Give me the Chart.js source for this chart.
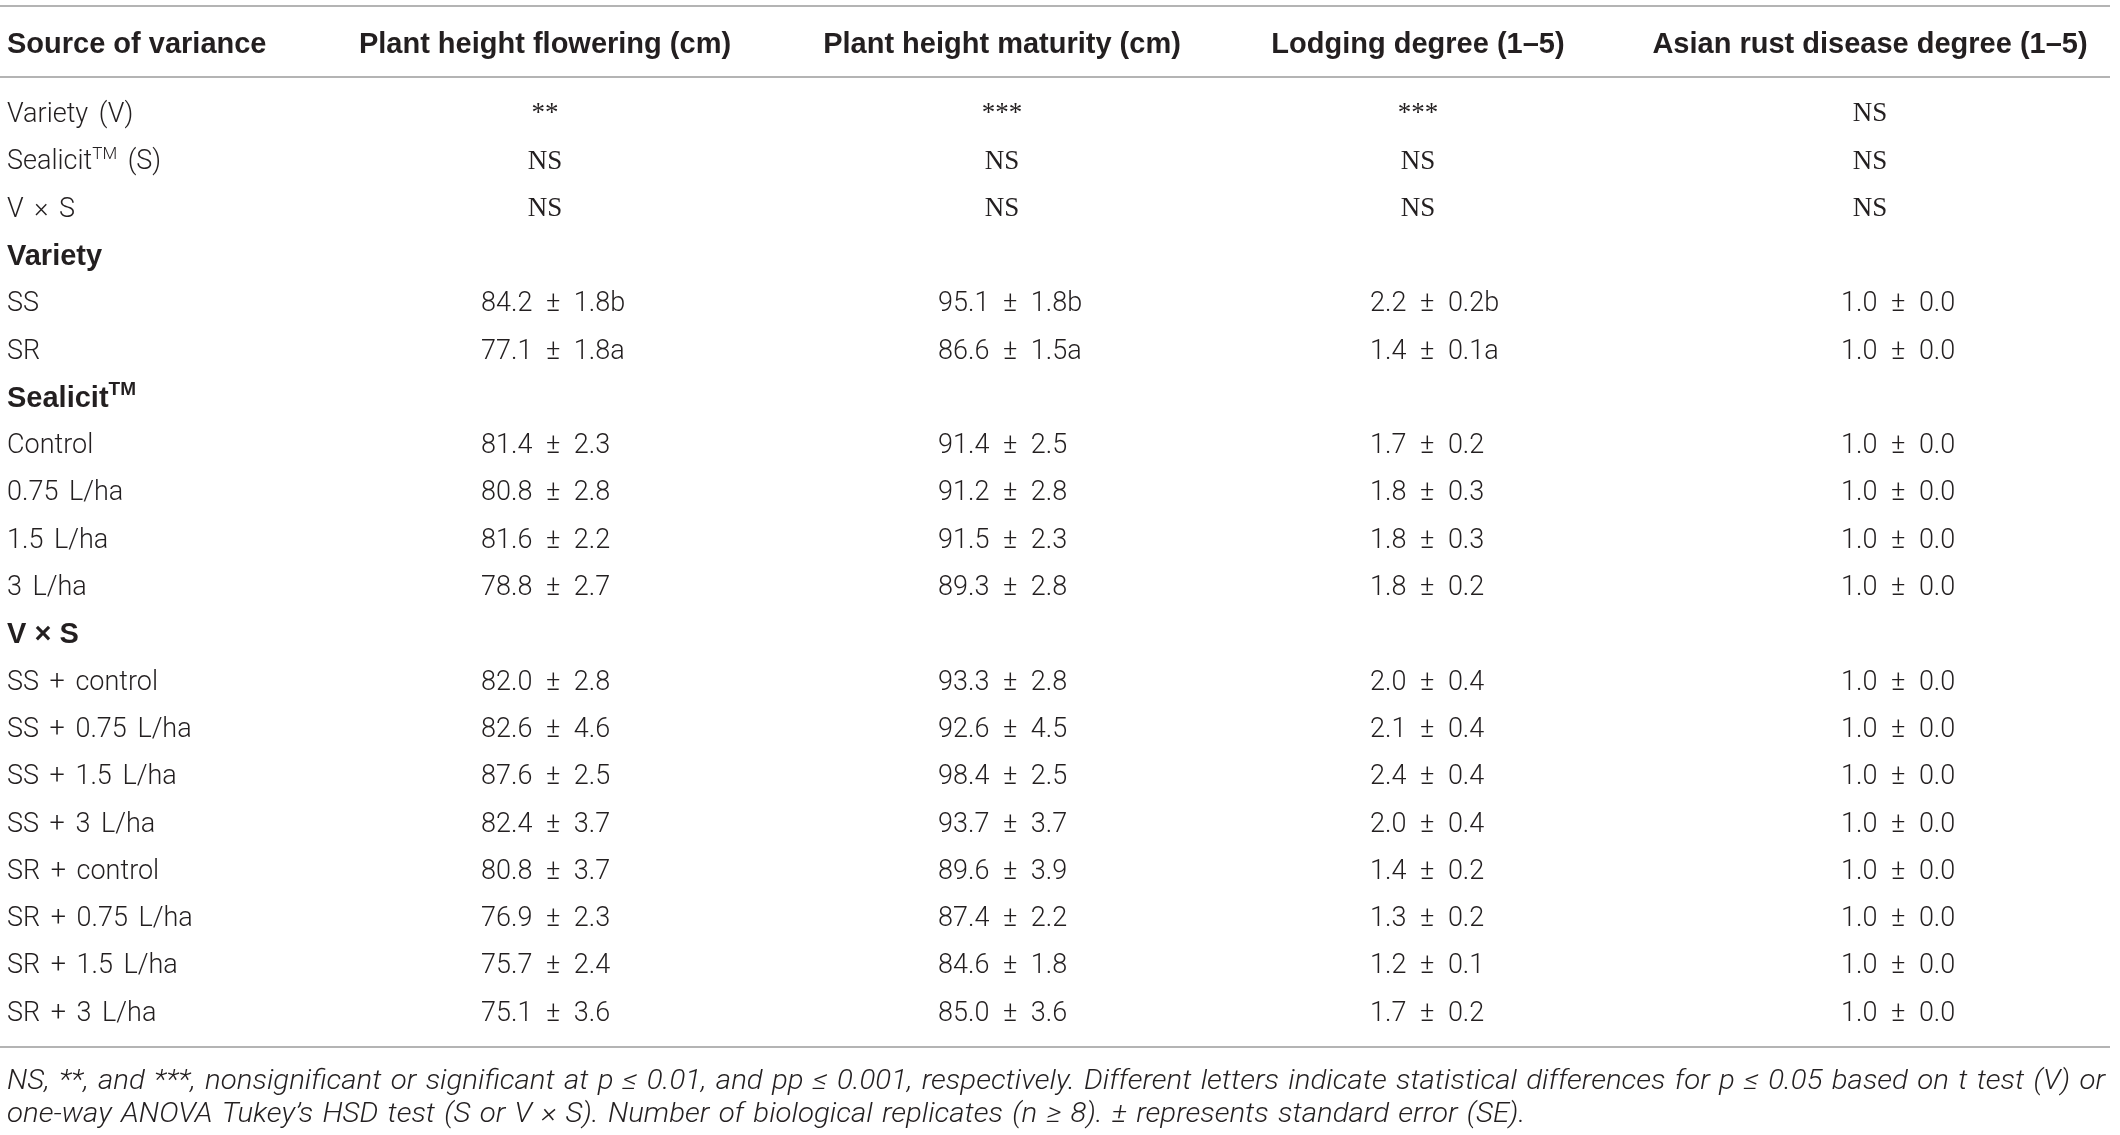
<!DOCTYPE html>
<html>
<head>
<meta charset="utf-8">
<script src="https://cdn.jsdelivr.net/npm/chart.js@4.4.1/dist/chart.umd.min.js"></script>
<style>
    html, body { margin: 0; padding: 0; background: #fff; }
    .table_wrap { width: 2120px; height: 1135px; position: relative; }
</style>
</head>
<body>
<div class="table_wrap"><canvas id="myChart"></canvas></div>
<script>
// --- table content ---
const columnHeads = ['Source of variance', 'Plant height flowering (cm)', 'Plant height maturity (cm)',
    'Lodging degree (1–5)', 'Asian rust disease degree (1–5)'];
const rowLabels = ['Variety (V)', 'Sealicit^TM (S)', 'V × S', 'Variety', 'SS', 'SR', 'Sealicit^TM',
    'Control', '0.75 L/ha', '1.5 L/ha', '3 L/ha', 'V × S', 'SS + control', 'SS + 0.75 L/ha',
    'SS + 1.5 L/ha', 'SS + 3 L/ha', 'SR + control', 'SR + 0.75 L/ha', 'SR + 1.5 L/ha', 'SR + 3 L/ha'];
const groupRows = [3, 6, 11];

const sigRows = [0, 1, 2];
const sigFlowering = ['**', 'NS', 'NS'];
const sigMaturity = ['***', 'NS', 'NS'];
const sigLodging = ['***', 'NS', 'NS'];
const sigRust = ['NS', 'NS', 'NS'];

const meanRows = [4, 5, 7, 8, 9, 10, 12, 13, 14, 15, 16, 17, 18, 19];
const floweringMean = [84.2, 77.1, 81.4, 80.8, 81.6, 78.8, 82.0, 82.6, 87.6, 82.4, 80.8, 76.9, 75.7, 75.1];
const floweringSE = [1.8, 1.8, 2.3, 2.8, 2.2, 2.7, 2.8, 4.6, 2.5, 3.7, 3.7, 2.3, 2.4, 3.6];
const maturityMean = [95.1, 86.6, 91.4, 91.2, 91.5, 89.3, 93.3, 92.6, 98.4, 93.7, 89.6, 87.4, 84.6, 85.0];
const maturitySE = [1.8, 1.5, 2.5, 2.8, 2.3, 2.8, 2.8, 4.5, 2.5, 3.7, 3.9, 2.2, 1.8, 3.6];
const lodgingMean = [2.2, 1.4, 1.7, 1.8, 1.8, 1.8, 2.0, 2.1, 2.4, 2.0, 1.4, 1.3, 1.2, 1.7];
const lodgingSE = [0.2, 0.1, 0.2, 0.3, 0.3, 0.2, 0.4, 0.4, 0.4, 0.4, 0.2, 0.2, 0.1, 0.2];
const rustMean = [1.0, 1.0, 1.0, 1.0, 1.0, 1.0, 1.0, 1.0, 1.0, 1.0, 1.0, 1.0, 1.0, 1.0];
const rustSE = [0.0, 0.0, 0.0, 0.0, 0.0, 0.0, 0.0, 0.0, 0.0, 0.0, 0.0, 0.0, 0.0, 0.0];
const varietyLetters = ['b', 'a'];   // t test letters, first two mean rows (cols 1-3)

const footnotes = [
    'NS, **, and ***, nonsignificant or significant at p ≤ 0.01, and pp ≤ 0.001, respectively. Different letters indicate statistical differences for p ≤ 0.05 based on t test (V) or',
    'one-way ANOVA Tukey’s HSD test (S or V × S). Number of biological replicates (n ≥ 8). ± represents standard error (SE).'
];

// --- layout (x in px, y in row units) ---
const colCenter = [7, 545, 1002, 1418, 1870];
const valueLeft = [7, 481, 938, 1370, 1841];
const HEAD_ROW = -1.47;
const RULE_ROWS = [-2.25, -0.75, 19.76];
const NOTE_ROWS = [20.45, 21.13];
const NOTE_WIDTH = 2098;
const Y_MIN = -2.378, Y_MAX = 21.618;
const INK = '#231f20';

const STYLES = {
    head:  { font: 'bold 29px "Liberation Sans"', size: 29, cap: 0.716 },
    group: { font: 'bold 29px "Liberation Sans"', size: 29, cap: 0.716 },
    label: { font: '300 27px Roboto', size: 27, cap: 0.711, spacing: '4px' },
    value: { font: '300 27px Roboto', size: 27, cap: 0.711, spacing: '7px' },
    sig:   { font: '27px "Liberation Serif"', size: 27, cap: 0.662 },
    note:  { font: 'italic 300 27px Roboto', size: 27, cap: 0.711, spacing: '2px' }
};

function cellText(mean, se, letter) {
    return mean.toFixed(1) + ' ± ' + se.toFixed(1) + (letter || '');
}

function makeSet(style, align, points, texts) {
    return { style: style, align: align, data: points, texts: texts, pointRadius: 0, showLine: false };
}

const datasets = [];
datasets.push(makeSet('head', 'left', [{ x: colCenter[0], y: HEAD_ROW }], [columnHeads[0]]));
datasets.push(makeSet('head', 'center', columnHeads.slice(1).map((h, i) => ({ x: colCenter[i + 1], y: HEAD_ROW })), columnHeads.slice(1)));

const plainRows = rowLabels.map((l, i) => i).filter(i => groupRows.indexOf(i) < 0);
datasets.push(makeSet('label', 'left', plainRows.map(i => ({ x: colCenter[0], y: i })), plainRows.map(i => rowLabels[i])));
datasets.push(makeSet('group', 'left', groupRows.map(i => ({ x: colCenter[0], y: i })), groupRows.map(i => rowLabels[i])));

[sigFlowering, sigMaturity, sigLodging, sigRust].forEach((sig, c) => {
    datasets.push(makeSet('sig', 'center', sigRows.map(r => ({ x: colCenter[c + 1], y: r })), sig));
});

[[floweringMean, floweringSE, true], [maturityMean, maturitySE, true],
 [lodgingMean, lodgingSE, true], [rustMean, rustSE, false]].forEach((col, c) => {
    const texts = col[0].map((m, i) => cellText(m, col[1][i], col[2] ? varietyLetters[i] : ''));
    datasets.push(makeSet('value', 'left', meanRows.map(r => ({ x: valueLeft[c + 1], y: r })), texts));
});

datasets.push(makeSet('note', 'left', NOTE_ROWS.map(r => ({ x: colCenter[0], y: r })), footnotes));

// draws "text^SUP rest" pieces, with the superscript smaller and raised
function drawRich(ctx, text, px, py, st, align) {
    const parts = text.split(/\^(\w+)/);
    const supFont = st.font.replace(/\d+px/, Math.round(st.size * 0.64) + 'px');
    let widths = parts.map((p, k) => {
        ctx.font = k % 2 ? supFont : st.font;
        return ctx.measureText(p).width;
    });
    const total = widths.reduce((a, b) => a + b, 0);
    let cx = align === 'center' ? px - total / 2 : px;
    const base = py + st.size * st.cap / 2;
    parts.forEach((p, k) => {
        ctx.font = k % 2 ? supFont : st.font;
        ctx.fillText(p, cx, k % 2 ? base - st.size * 0.4 : base);
        cx += widths[k];
    });
}

const tablePlugin = {
    id: 'tableText',
    afterDatasetsDraw(chart) {
        const ctx = chart.ctx;
        const xs = chart.scales.x, ys = chart.scales.y;
        ctx.save();
        ctx.strokeStyle = '#b4b4b4';
        ctx.lineWidth = 2;
        RULE_ROWS.forEach(r => {
            const py = Math.round(ys.getPixelForValue(r));
            ctx.beginPath();
            ctx.moveTo(xs.getPixelForValue(0), py);
            ctx.lineTo(xs.getPixelForValue(2110), py);
            ctx.stroke();
        });

        ctx.fillStyle = INK;
        ctx.textAlign = 'left';
        ctx.textBaseline = 'alphabetic';
        chart.data.datasets.forEach((ds, i) => {
            const st = STYLES[ds.style];
            const meta = chart.getDatasetMeta(i);
            ctx.wordSpacing = st.spacing || '0px';
            if (ds.style === 'note') {
                // first line fills the table width; second line uses the same squeeze
                ctx.font = st.font;
                const noteScale = NOTE_WIDTH / ctx.measureText(ds.texts[0]).width;
                meta.data.forEach((pt, j) => {
                    ctx.save();
                    ctx.translate(pt.x, pt.y + st.size * st.cap / 2);
                    ctx.scale(noteScale, 1);
                    ctx.fillText(ds.texts[j], 0, 0);
                    ctx.restore();
                });
                return;
            }
            meta.data.forEach((pt, j) => drawRich(ctx, ds.texts[j], pt.x, pt.y, st, ds.align));
        });
        ctx.wordSpacing = '0px';
        ctx.restore();
    }
};

const ctx = document.getElementById('myChart');

new Chart(ctx, {
    type: 'scatter',
    data: { datasets: datasets },
    options: {
        responsive: true,
        maintainAspectRatio: false,
        animation: false,
        events: [],
        layout: { padding: 0 },
        plugins: {
            legend: { display: false },
            tooltip: { enabled: false }
        },
        scales: {
            x: { type: 'linear', display: false, min: 0, max: 2120 },
            y: { type: 'linear', display: false, reverse: true, min: Y_MIN, max: Y_MAX }
        }
    },
    plugins: [tablePlugin]
});
</script>
</body>
</html>
